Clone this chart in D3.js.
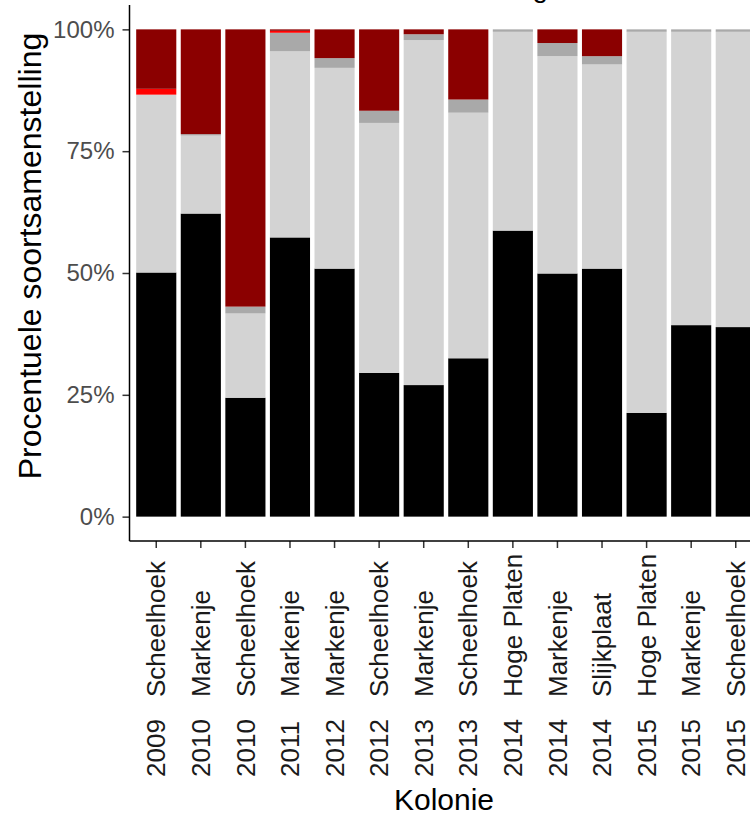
<!DOCTYPE html>
<html>
<head>
<meta charset="utf-8">
<script src="https://cdn.jsdelivr.net/npm/d3@7"></script>
<style>
  html, body { margin: 0; padding: 0; background: #fff; }
  svg { display: block; font-family: "Liberation Sans", Arial, sans-serif; }
</style>
</head>
<body>
<svg id="chart" width="750" height="815"></svg>
<script>
// ---- data (percent of species composition per colony/year) ----
const years    = ["2009","2010","2010","2011","2012","2012","2013","2013","2014","2014","2014","2015","2015","2015"];
const colonies = ["Scheelhoek","Markenje","Scheelhoek","Markenje","Markenje","Scheelhoek","Markenje","Scheelhoek","Hoge Platen","Markenje","Slijkplaat","Hoge Platen","Markenje","Scheelhoek"];
const seriesKeys   = ["soort1","soort2","soort3","soort4","soort5"];
const seriesColors = ["#000000","#d3d3d3","#a9a9a9","#ff0000","#8b0000"];
const soort1 = [50.1, 62.2, 24.4, 57.3, 50.9, 29.5, 27.0, 32.5, 58.7, 49.9, 50.9, 21.3, 39.3, 38.9];
const soort2 = [36.5, 16.0, 17.3, 38.2, 41.2, 51.3, 70.8, 50.4, 40.8, 44.6, 41.9, 78.2, 60.2, 60.6];
const soort3 = [ 0.0,  0.3,  1.4,  3.8,  2.0,  2.5,  1.2,  2.7,  0.5,  2.7,  1.7,  0.5,  0.5,  0.5];
const soort4 = [ 1.2,  0.0,  0.0,  0.4,  0.0,  0.0,  0.0,  0.0,  0.0,  0.0,  0.0,  0.0,  0.0,  0.0];
const soort5 = [12.2, 21.5, 56.9,  0.3,  5.9, 16.7,  1.0, 14.4,  0.0,  2.8,  5.5,  0.0,  0.0,  0.0];
const yTicks = [0, 0.25, 0.5, 0.75, 1];
const titleText = "Soortsamenstelling";
const yTitle = "Procentuele soortsamenstelling";
const xTitle = "Kolonie";

// ---- build table ----
const rows = years.map((y, i) => {
  const vals = [soort1[i], soort2[i], soort3[i], soort4[i], soort5[i]];
  const tot = d3.sum(vals);
  const r = { idx: i, year: y, colony: colonies[i] };
  seriesKeys.forEach((k, j) => r[k] = vals[j] / tot);
  return r;
});
const stacked = d3.stack().keys(seriesKeys)(rows);

const svg = d3.select("#chart");
const panel = { left: 129.5, right: 762.5, top: 5, bottom: 541 };

const x = d3.scaleBand()
  .domain(rows.map(d => d.idx))
  .range([panel.left, panel.right])
  .paddingInner(0.1)
  .paddingOuter(0.15);
const y = d3.scaleLinear().domain([-0.05, 1.05]).range([panel.bottom, panel.top]);
const color = d3.scaleOrdinal().domain(seriesKeys).range(seriesColors);

// bars
svg.append("g").selectAll("g")
  .data(stacked).join("g")
  .attr("fill", d => color(d.key))
  .selectAll("rect")
  .data(d => d).join("rect")
  .attr("x", d => x(d.data.idx))
  .attr("width", x.bandwidth())
  .attr("y", d => y(d[1]))
  .attr("height", d => Math.max(0, y(d[0]) - y(d[1])));

// y axis
const yAxis = d3.axisLeft(y).tickValues(yTicks).tickFormat(d3.format(".0%")).tickSize(7).tickPadding(8);
const gy = svg.append("g").attr("transform", `translate(${panel.left},0)`).call(yAxis);
gy.select(".domain").remove();
gy.append("line").attr("x1", 0).attr("x2", 0).attr("y1", panel.top).attr("y2", panel.bottom)
  .attr("stroke", "#000").attr("stroke-width", 1.5);
gy.selectAll(".tick line").attr("stroke", "#333").attr("stroke-width", 1.5);
gy.selectAll(".tick text").attr("fill", "#4d4d4d").attr("font-size", 24);

// x axis
const xAxis = d3.axisBottom(x).tickSize(7).tickFormat("");
const gx = svg.append("g").attr("transform", `translate(0,${panel.bottom})`).call(xAxis);
gx.select(".domain").remove();
gx.append("line").attr("x1", panel.left).attr("x2", panel.right).attr("y1", 0).attr("y2", 0)
  .attr("stroke", "#000").attr("stroke-width", 1.5);
gx.selectAll(".tick line").attr("stroke", "#333").attr("stroke-width", 1.5);

// x tick labels: year and colony, rotated
const lab = svg.append("g").attr("font-size", 26).attr("fill", "#1a1a1a");
rows.forEach(d => {
  const cx = x(d.idx) + x.bandwidth() / 2;
  lab.append("text")
    .attr("transform", `translate(${cx},777) rotate(-90)`)
    .attr("dy", "0.35em").attr("text-anchor", "start").text(d.year);
  lab.append("text")
    .attr("transform", `translate(${cx},697) rotate(-90)`)
    .attr("dy", "0.35em").attr("text-anchor", "start").text(d.colony);
});

// titles
svg.append("text").attr("x", 444).attr("y", 810).attr("text-anchor", "middle")
  .attr("font-size", 30).attr("fill", "#000").text(xTitle);
svg.append("text").attr("transform", "translate(41,256) rotate(-90)").attr("text-anchor", "middle")
  .attr("font-size", 32).attr("fill", "#000").text(yTitle);
svg.append("text").attr("x", 548).attr("y", -3).attr("text-anchor", "end")
  .attr("font-size", 28).attr("fill", "#000").text(titleText);
</script>
</body>
</html>
